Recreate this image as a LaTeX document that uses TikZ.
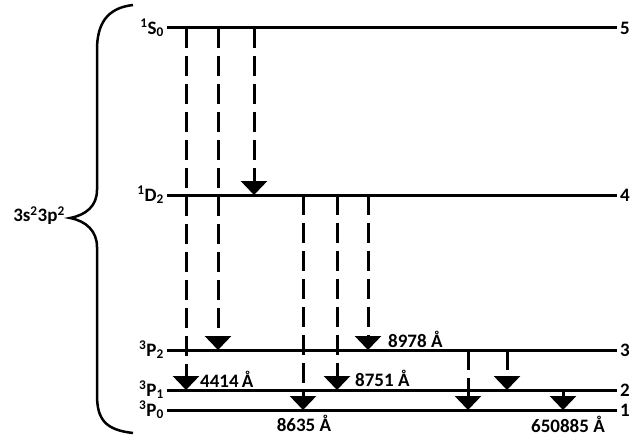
\documentclass[tikz,border=0pt]{standalone}
\usepackage{fontspec}
\setmainfont{Carlito}
\usetikzlibrary{arrows.meta, positioning}

\begin{document}
\begin{tikzpicture}[x=1pt, y=-1pt,
		level/.style={line width=3pt},
		trans/.style={line width=3pt, dash pattern=on 20pt off 8pt, -{Triangle[width=26pt,length=14pt]}},
		lbl/.style={font=\fontsize{19}{22}\selectfont\bfseries, inner sep=0pt}]
	\useasboundingbox (0,0) rectangle (632,441);
	\foreach \n/\y/\t in {5/28/{\textsuperscript{1}S\textsubscript{0}},
			4/195/{\textsuperscript{1}D\textsubscript{2}},
			3/350/{\textsuperscript{3}P\textsubscript{2}},
			2/390/{\textsuperscript{3}P\textsubscript{1}},
			1/410/{\textsuperscript{3}P\textsubscript{0}}} % 能级
	{
		\draw[level] (167,\y) coordinate (l\n) -- (617,\y) coordinate (r\n);
		\node[lbl, anchor=east] (t\n) at ([xshift=-3pt]l\n) {\t};
		\node[lbl, anchor=west] (n\n) at ([xshift=3pt]r\n) {\n};
	}
	\foreach \x/\a/\b in {186/5/2, 218/5/3, 254/5/4, 303/4/1, 337/4/2, 368/4/3, 468/3/1, 507/3/2, 563/2/1} % 跃迁
		\draw[trans] (l\a -| \x,0) -- (l\b -| \x,0);

	\node[lbl, anchor=base west] (w4414) at (200,387) {4414\,Å};
	\node[lbl, anchor=base west] (w8751) at (355,386) {8751 Å};
	\node[lbl, anchor=base west] (w8978) at (388,347) {8978 Å};
	\node[lbl, anchor=base] (w8635) at (304,431) {8635 Å};
	\node[lbl, anchor=base] (w650885) at (568,432) {650885 Å};

	% 大括号
	\draw[line width=2.5pt] (133,5) .. controls (106,8) and (97,25) .. (97,50) -- (97,190)
		.. controls (97,206) and (86,215) .. (70,218) .. controls (86,221) and (97,231) .. (97,247)
		-- (97,395) .. controls (97,420) and (106,430) .. (133,433);
	\node[lbl, anchor=base east] (cfg) at (65,222) {3s\textsuperscript{2}3p\textsuperscript{2}};
\end{tikzpicture}
\end{document}
